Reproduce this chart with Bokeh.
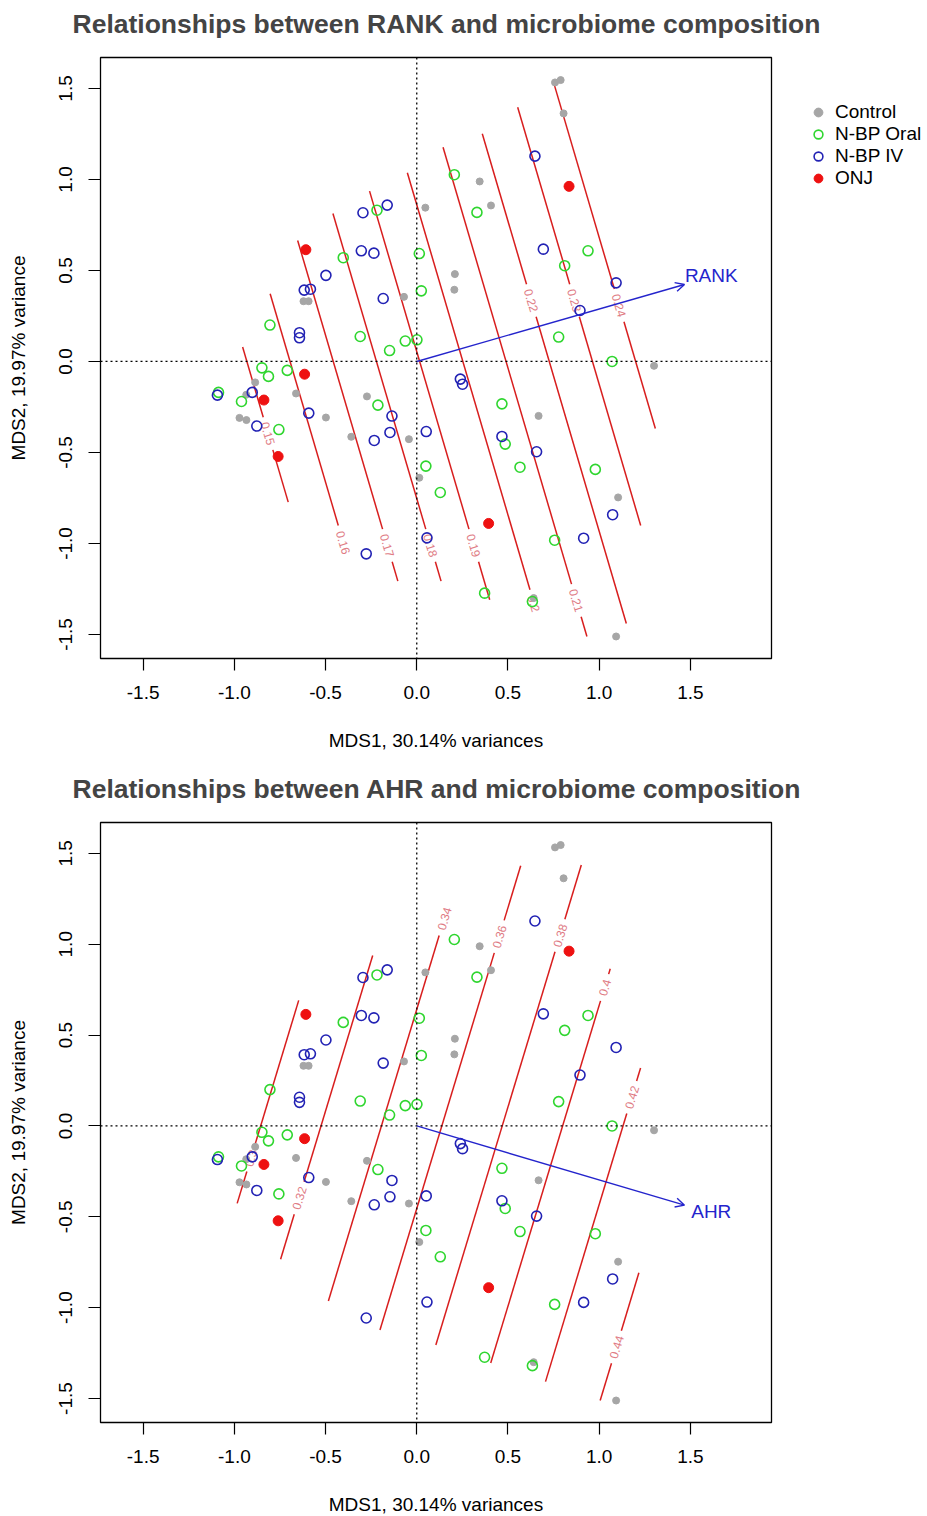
import math
from bokeh.plotting import figure
from bokeh.models import (FixedTicker, PrintfTickFormatter, Span, Arrow, OpenHead,
                          Legend, LegendItem, Title)
from bokeh.layouts import column
from bokeh.embed import file_html
from bokeh.resources import INLINE
from bokeh.core.properties import value

FONT = "Liberation Sans"

# ---------------- data: MDS site scores ----------------
control_x = [0.047, 0.758, 0.789, 0.805, 0.345, 0.407, 0.209, 0.206, -0.621, -0.593,
             -0.070, -0.886, -0.935, -0.662, -0.498, -0.972, -0.934, -0.273, -0.359,
             -0.043, 0.014, 1.301, 0.668, 1.104, 0.641, 1.093]
control_y = [0.845, 1.533, 1.546, 1.363, 0.989, 0.857, 0.480, 0.394, 0.331, 0.331,
             0.355, -0.115, -0.183, -0.176, -0.308, -0.310, -0.322, -0.192, -0.414,
             -0.427, -0.639, -0.024, -0.299, -0.747, -1.300, -1.511]

oral_x = [-0.218, -0.403, 0.014, 0.025, -0.805, -0.310, -0.149, -0.063, 0.001, 0.206,
          0.330, 0.939, 0.811, 0.778, 1.071, -0.849, -0.813, -0.710, -1.087, -0.961,
          -0.756, -0.213, 0.050, 0.129, 0.467, 0.485, 0.566, 0.979, 0.756, 0.372, 0.634]
oral_y = [0.831, 0.570, 0.593, 0.388, 0.200, 0.137, 0.060, 0.112, 0.119, 1.026,
          0.819, 0.608, 0.526, 0.134, 0.000, -0.035, -0.082, -0.049, -0.170, -0.220,
          -0.374, -0.240, -0.575, -0.720, -0.233, -0.454, -0.581, -0.593, -0.982, -1.273, -1.319]

iv_x = [-0.295, -0.162, -0.304, -0.235, -0.498, -0.617, -0.583, -0.184, -0.643, -0.643,
        0.648, 0.694, 1.093, 0.895, -0.902, -1.093, -0.592, -0.877, -0.136, -0.147,
        -0.233, 0.052, 0.056, -0.277, 0.239, 0.251, 0.467, 0.657, 1.074, 0.915]
iv_y = [0.817, 0.859, 0.608, 0.595, 0.473, 0.392, 0.397, 0.346, 0.158, 0.130,
        1.128, 0.617, 0.432, 0.280, -0.170, -0.185, -0.284, -0.355, -0.300, -0.390,
        -0.434, -0.385, -0.969, -1.057, -0.097, -0.125, -0.412, -0.496, -0.842, -0.971]

onj_x = [-0.608, 0.835, -0.615, -0.838, -0.760, 0.394]
onj_y = [0.614, 0.962, -0.070, -0.212, -0.522, -0.890]

# ---------------- fitted linear surfaces (ordisurf) ----------------
rank_coef = [0.18933, 0.04222, 0.01239]      # intercept, MDS1, MDS2
rank_arrow = [1.468, 0.423]
rank_levels = [0.15, 0.16, 0.17, 0.18, 0.19, 0.20, 0.21, 0.22, 0.23, 0.24]
rank_top = [0.079, 0.372, 0.665, 0.813, 0.936, 1.037, 1.177, 1.251, 1.397, 1.540]
rank_bottom = [-0.773, -0.901, -1.207, -1.207, -1.309, -1.254, -1.511, -1.440, -0.901, -0.368]
rank_label_y = [-0.396, -0.995, -1.011, -1.011, -1.011, -1.330, -1.313, 0.335, 0.335, 0.308]

ahr_coef = [0.3517, 0.0604, -0.01824]
ahr_arrow = [1.468, -0.436]
ahr_levels = [0.30, 0.32, 0.34, 0.36, 0.38, 0.40, 0.42, 0.44]
ahr_top = [0.691, 0.938, 1.048, 1.432, 1.436, 0.865, 0.319, -0.808]
ahr_bottom = [-0.426, -0.734, -0.963, -1.123, -1.205, -1.305, -1.407, -1.511]
ahr_label_y = [-0.177, -0.397, 1.141, 1.042, 1.048, 0.762, 0.158, -1.216]

groups = ["Control", "N-BP Oral", "N-BP IV", "ONJ"]
x_ticks = [-1.5, -1.0, -0.5, 0.0, 0.5, 1.0, 1.5]
y_ticks = [-1.5, -1.0, -0.5, 0.0, 0.5, 1.0, 1.5]

X_RANGE = (-1.734, 1.945)
Y_RANGE = (-1.632, 1.670)

GRAY = "#a6a6a6"
GREEN = "#2fd62f"
BLUE = "#2222b4"
RED = "#ee1111"
LINE_RED = "#d81e1e"
LAB_RED = "#e07b84"
ARROW_BLUE = "#2424cc"

STYLE = {
    "Control": dict(size=7, fill_color=GRAY, line_color=GRAY, line_width=1),
    "N-BP Oral": dict(size=10, fill_color=None, line_color=GREEN, line_width=1.6),
    "N-BP IV": dict(size=10, fill_color=None, line_color=BLUE, line_width=1.6),
    "ONJ": dict(size=10, fill_color=RED, line_color=RED, line_width=1),
}


def make_panel(title, coef, levels, tops, bottoms, label_ys, arrow, arrow_name,
               frame_h, border_bottom, legend):
    p = figure(frame_width=671, frame_height=frame_h, output_backend="svg",
               toolbar_location=None, x_range=X_RANGE, y_range=Y_RANGE,
               min_border_left=100, min_border_right=156,
               min_border_top=57, min_border_bottom=border_bottom)
    # spacer between title and frame
    p.add_layout(Title(text=" ", text_font_size="10px", standoff=6), "above")
    p.title.text = title
    p.title.text_font = FONT
    p.title.text_font_size = "26.5px"
    p.title.text_font_style = "bold"
    p.title.align = "left"
    p.title.offset = -28
    p.title.standoff = 0
    p.grid.visible = False
    p.outline_line_color = "black"
    p.outline_line_width = 1.3
    p.outline_line_alpha = 1.0
    p.background_fill_color = "white"
    p.border_fill_color = "white"

    for ax in (p.xaxis[0], p.yaxis[0]):
        ax.axis_line_color = None
        ax.major_tick_out = 12
        ax.major_tick_in = 0
        ax.major_tick_line_width = 1.2
        ax.minor_tick_line_color = None
        ax.major_label_text_font = FONT
        ax.major_label_text_font_size = "19px"
        ax.major_label_text_color = "black"
        ax.major_label_standoff = 15
        ax.axis_label_text_font = FONT
        ax.axis_label_text_font_size = "19px"
        ax.axis_label_text_font_style = "normal"
        ax.axis_label_text_color = "black"
        ax.axis_label_standoff = 28
        ax.formatter = PrintfTickFormatter(format="%.1f")
    p.xaxis[0].ticker = FixedTicker(ticks=x_ticks)
    p.yaxis[0].ticker = FixedTicker(ticks=y_ticks)
    p.yaxis[0].major_label_orientation = "vertical"
    p.yaxis[0].major_label_standoff = 16
    p.xaxis[0].axis_label = "MDS1, 30.14% variances"
    p.yaxis[0].axis_label = "MDS2, 19.97% variance"

    # zero reference lines
    p.add_layout(Span(location=0, dimension="width", line_color="black",
                      line_dash="2 3", line_width=1.3))
    p.add_layout(Span(location=0, dimension="height", line_color="black",
                      line_dash="2 3", line_width=1.3))

    # contour lines of the fitted surface, with gaps for labels
    c0, b1, b2 = coef
    ang = math.atan2(b1, -b2)
    if ang > math.pi / 2:
        ang -= math.pi
    if ang <= -math.pi / 2:
        ang += math.pi
    sin_a = abs(math.sin(ang))
    xs, ys = [], []
    lx, ly, lt = [], [], []
    for lev, yt, yb, yl in zip(levels, tops, bottoms, label_ys):
        txt = "%g" % lev
        h = (len(txt) * 3.0 + 5.0) / 182.0 * sin_a

        def xat(y, lev=lev):
            return (lev - c0 - b2 * y) / b1
        if yl + h < yt:
            y2 = max(yb, yl + h)
            xs.append([xat(yt), xat(y2)])
            ys.append([yt, y2])
        if yl - h > yb:
            y1 = min(yt, yl - h)
            xs.append([xat(y1), xat(yb)])
            ys.append([y1, yb])
        lx.append(xat(yl))
        ly.append(yl)
        lt.append(txt)
    p.multi_line(xs=xs, ys=ys, line_color=LINE_RED, line_width=1.5)
    p.text(x=lx, y=ly, text=lt, angle=ang, text_align="center", text_baseline="middle",
           text_font=value(FONT), text_font_size="12px", text_color=LAB_RED)

    # arrow of the fitted vector
    p.add_layout(Arrow(end=OpenHead(size=9, line_color=ARROW_BLUE, line_width=1.4),
                       x_start=0, y_start=0, x_end=arrow[0], y_end=arrow[1],
                       line_color=ARROW_BLUE, line_width=1.4))
    p.text(x=[arrow[0] * 1.1], y=[arrow[1] * 1.1 + 0.008], text=[arrow_name],
           text_align="center", text_baseline="middle", text_font=value(FONT),
           text_font_size="19px", text_color=ARROW_BLUE)

    # points
    rends = []
    for g, gx, gy in zip(groups, [control_x, oral_x, iv_x, onj_x],
                         [control_y, oral_y, iv_y, onj_y]):
        rends.append(p.scatter(gx, gy, marker="circle", **STYLE[g]))

    if legend:
        items = [LegendItem(label=g, renderers=[r]) for g, r in zip(groups, rends)]
        lg = Legend(items=items, location="top_left", orientation="vertical",
                    title=" ", title_text_font_size="2px", title_standoff=6,
                    glyph_width=22, glyph_height=22, label_height=22,
                    label_standoff=6, spacing=0, padding=0, margin=36,
                    border_line_color=None, background_fill_alpha=0,
                    label_text_font=FONT, label_text_font_size="19px",
                    label_text_color="black")
        p.add_layout(lg, "right")
    return p


p1 = make_panel("Relationships between RANK and microbiome composition",
                rank_coef, rank_levels, rank_top, rank_bottom, rank_label_y,
                rank_arrow, "RANK", frame_h=601, border_bottom=107, legend=True)
p2 = make_panel("Relationships between AHR and microbiome composition",
                ahr_coef, ahr_levels, ahr_top, ahr_bottom, ahr_label_y,
                ahr_arrow, "AHR", frame_h=600, border_bottom=94, legend=False)

layout = column(p1, p2, spacing=0)
open("out.html", "w").write(file_html(layout, INLINE))
